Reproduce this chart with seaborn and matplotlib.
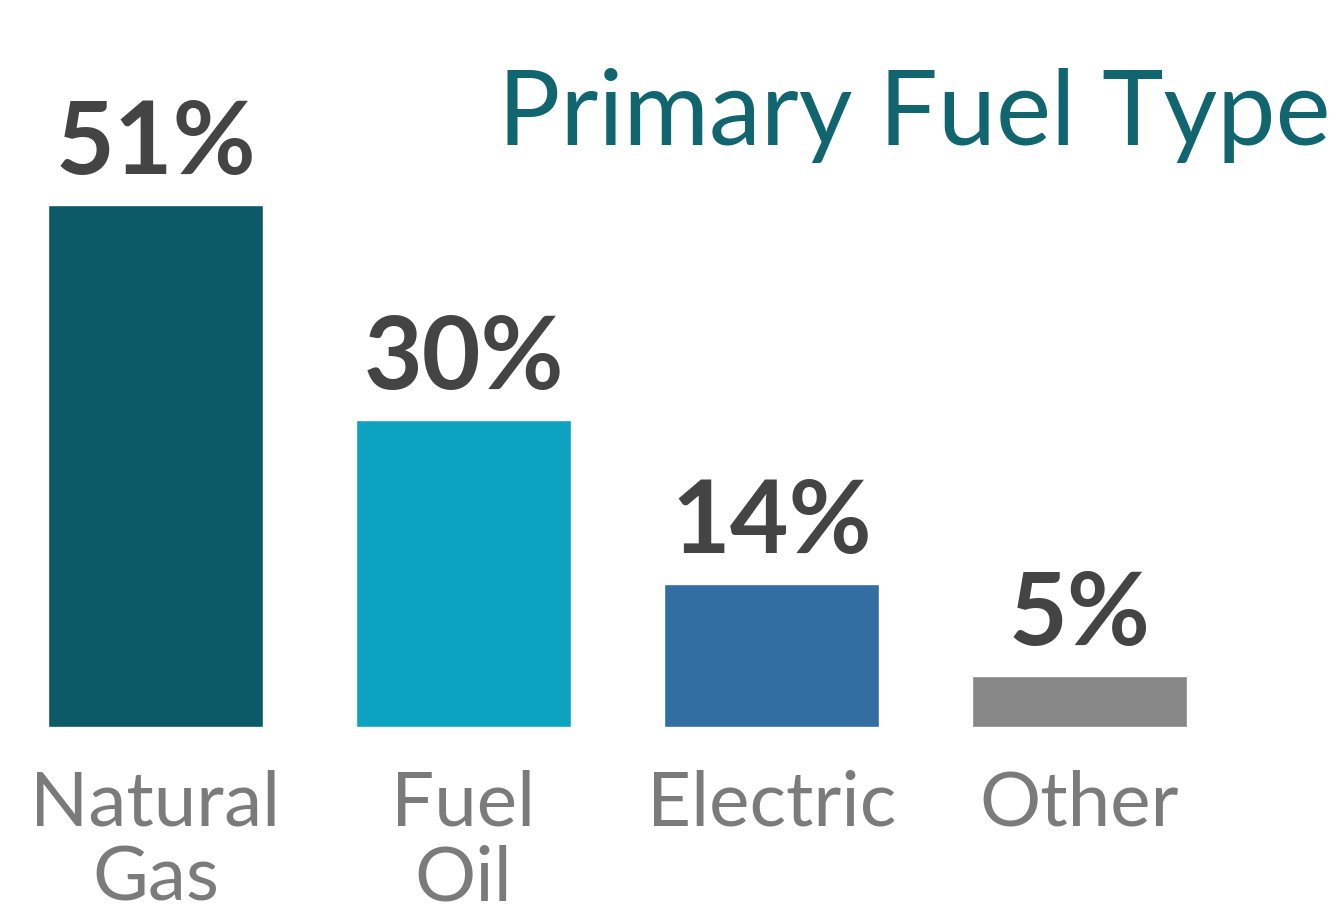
import matplotlib
matplotlib.use("Agg")
import matplotlib.pyplot as plt
import seaborn as sns
import pandas as pd

# Values
categories = ["Natural Gas", "Fuel Oil", "Electric", "Other"]
tick_labels = ["Natural\nGas", "Fuel\nOil", "Electric", "Other"]
shares = [51, 30, 14, 5]
colors = ["#0c5968", "#0ba3bf", "#336ea2", "#878787"]

df = pd.DataFrame({"fuel": categories, "share": shares})

sns.set_style("white")
plt.rcParams["font.family"] = ["Lato", "DejaVu Sans"]

fig = plt.figure(figsize=(13.38, 9.05), dpi=100)
ax = fig.add_axes([0, 0, 1, 1])

sns.barplot(data=df, x="fuel", y="share", hue="fuel", palette=colors,
            width=0.7, saturation=1, legend=False, ax=ax)

ax.set_xlim(-0.505, 3.84)
ax.set_ylim(-17.4, 71.0)
ax.axis("off")

# value labels above bars
for i, v in enumerate(shares):
    ax.text(i, v + 3.0, f"{v}%", ha="center", va="baseline",
            fontsize=73, fontweight="bold", color="#444444")

# category labels under bars
for i, lab in enumerate(tick_labels):
    ax.text(i, -4.2, lab, ha="center", va="top", fontsize=55,
            color="#7b7b7b", linespacing=1.1)

fig.text(1330 / 1338, 1 - 145 / 905, "Primary Fuel Type", ha="right",
         va="baseline", fontsize=75, color="#11656f")

fig.savefig("out.png", dpi=100)
